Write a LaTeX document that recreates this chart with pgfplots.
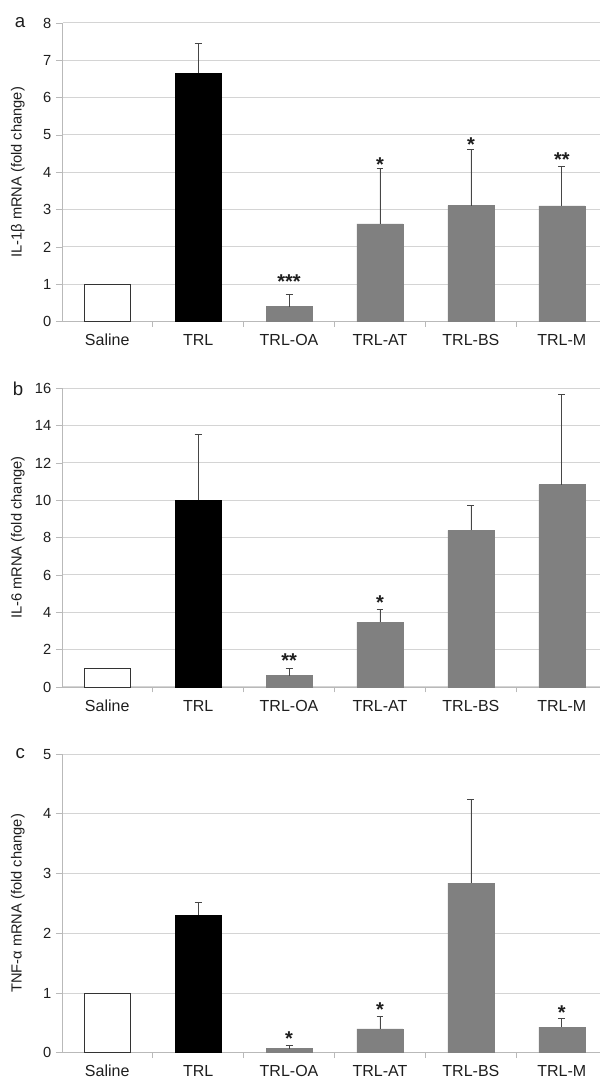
\documentclass[border=0pt]{standalone}
\usepackage{fontspec}
\setmainfont{Liberation Sans}
\usepackage{pgfplots}
\pgfplotsset{compat=1.18}
\usepackage{pgfplotstable}
\definecolor{gridc}{RGB}{212,212,212}
\definecolor{axc}{RGB}{185,185,185}
\definecolor{barg}{RGB}{128,128,128}
\definecolor{errc}{RGB}{70,70,70}
\definecolor{txt}{RGB}{30,30,30}

% panel a
\pgfplotstableread{
x y ep
0 1.00 0
}\aSal
\pgfplotstableread{
x y ep
1 6.65 0.81
}\aTRL
\pgfplotstableread{
x y ep
2 0.40 0.32
3 2.62 1.49
4 3.11 1.51
5 3.10 1.06
}\aOth
% panel b
\pgfplotstableread{
x y ep
0 1.00 0
}\bSal
\pgfplotstableread{
x y ep
1 10.00 3.53
}\bTRL
\pgfplotstableread{
x y ep
2 0.61 0.39
3 3.48 0.68
4 8.39 1.32
5 10.84 4.82
}\bOth
% panel c
\pgfplotstableread{
x y ep
0 1.00 0
}\cSal
\pgfplotstableread{
x y ep
1 2.305 0.215
}\cTRL
\pgfplotstableread{
x y ep
2 0.067 0.063
3 0.40 0.20
4 2.84 1.40
5 0.43 0.14
}\cOth

\pgfplotsset{
  panel/.style={
    at={(47pt,#1)}, anchor=south west,
    scale only axis, width=403pt, height=224pt,
    xmin=-0.49, xmax=5.42, ymin=0,
    axis x line*=bottom, axis y line*=left,
    axis line style={draw=axc, line width=0.6pt},
    xtick={0,1,2,3,4,5},
    xticklabels={Saline,TRL,TRL-OA,TRL-AT,TRL-BS,TRL-M},
    xtick style={draw=none},
    x tick label style={font=\fontsize{12}{14}\selectfont, text=txt, text height=0.75em, text depth=0pt, anchor=north, yshift=-2pt},
    extra x ticks={-0.5,0.5,1.5,2.5,3.5,4.5},
    extra x tick labels={},
    extra x tick style={xtick style={draw=axc, line width=0.6pt}, major tick length=4pt, tick align=outside, grid=none},
    ymajorgrids, grid style={draw=gridc, line width=0.75pt},
    ytick style={draw=axc, line width=0.6pt},
    tick align=outside, major tick length=5pt,
    y tick label style={font=\fontsize{11}{13}\selectfont, text=txt},
    /pgf/number format/assume math mode=true,
    ylabel style={at={(axis description cs:-0.0832,0.5)}, anchor=center, font=\fontsize{11}{13}\selectfont, text=txt},
    clip=false,
  },
  errstyle/.style={
    error bars/.cd, y dir=plus, y explicit,
    error bar style={draw=errc, line width=0.6pt},
    error mark options={rotate=90, draw=errc, mark size=2.6pt, line width=0.6pt},
  },
}
\tikzset{
  mystar/.style={anchor=base, inner sep=0pt, font=\bfseries\fontsize{15}{17}\selectfont, text=txt},
  myletter/.style={anchor=center, font=\fontsize{14}{16}\selectfont, text=txt},
}

\begin{document}
\begin{tikzpicture}
\useasboundingbox (0,0) rectangle (450pt,809.25pt);

% ---------- a ----------
\begin{axis}[panel=568pt, ymax=8, ytick distance=1,
  ylabel={IL-1β mRNA (fold change)}]
\addplot[ybar, bar shift=0pt, bar width=0.506, fill=white, draw=black!80, line width=0.6pt] table[x=x,y=y] {\aSal};
\addplot[ybar, bar shift=0pt, bar width=0.506, fill=black, draw=black, errstyle] table[x=x,y=y,y error plus=ep] {\aTRL};
\addplot[ybar, bar shift=0pt, bar width=0.506, fill=barg, draw=barg, errstyle] table[x=x,y=y,y error plus=ep] {\aOth};
\node[mystar] at (axis cs:2,0.89) {***};
\node[mystar] at (axis cs:3,4.02) {*};
\node[mystar] at (axis cs:4,4.56) {*};
\node[mystar] at (axis cs:5,4.15) {**};
\node[myletter] at (axis description cs:-0.0795,1.0) {a};
\end{axis}

% ---------- b ----------
\begin{axis}[panel=294pt, ymax=16, ytick distance=2,
  ylabel={IL-6 mRNA (fold change)}]
\addplot[ybar, bar shift=0pt, bar width=0.506, fill=white, draw=black!80, line width=0.6pt] table[x=x,y=y] {\bSal};
\addplot[ybar, bar shift=0pt, bar width=0.506, fill=black, draw=black, errstyle] table[x=x,y=y,y error plus=ep] {\bTRL};
\addplot[ybar, bar shift=0pt, bar width=0.506, fill=barg, draw=barg, errstyle] table[x=x,y=y,y error plus=ep] {\bOth};
\node[mystar] at (axis cs:2,1.04) {**};
\node[mystar] at (axis cs:3,4.16) {*};
\node[myletter] at (axis description cs:-0.083,1.0) {b};
\end{axis}

% ---------- c ----------
\begin{axis}[panel=19.7pt, ymax=5, ytick distance=1,
  ylabel={TNF-α mRNA (fold change)}]
\addplot[ybar, bar shift=0pt, bar width=0.506, fill=white, draw=black!80, line width=0.6pt] table[x=x,y=y] {\cSal};
\addplot[ybar, bar shift=0pt, bar width=0.506, fill=black, draw=black, errstyle] table[x=x,y=y,y error plus=ep] {\cTRL};
\addplot[ybar, bar shift=0pt, bar width=0.506, fill=barg, draw=barg, errstyle] table[x=x,y=y,y error plus=ep] {\cOth};
\node[mystar] at (axis cs:2,0.119) {*};
\node[mystar] at (axis cs:3,0.60) {*};
\node[mystar] at (axis cs:5,0.55) {*};
\node[myletter] at (axis description cs:-0.079,1.0) {c};
\end{axis}
\end{tikzpicture}
\end{document}
